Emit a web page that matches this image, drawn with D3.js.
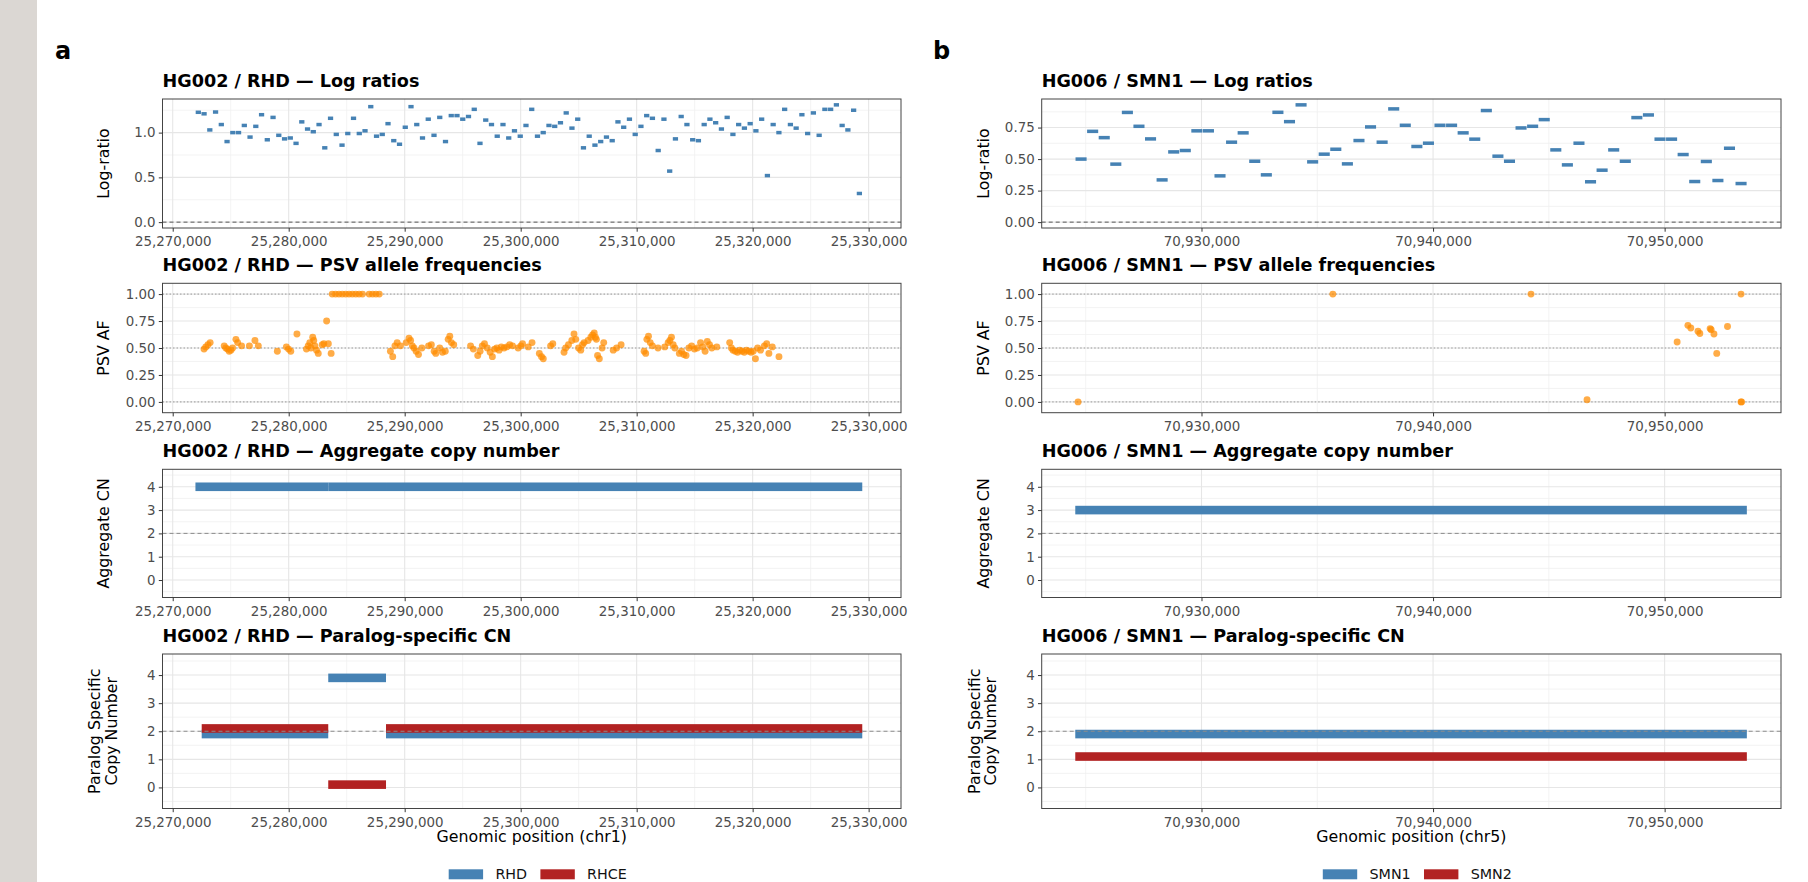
<!DOCTYPE html>
<html><head><meta charset="utf-8">
<script src="https://cdn.jsdelivr.net/npm/d3@7"></script>
<style>html,body{margin:0;padding:0;background:#fff;} svg{display:block;font-family:"DejaVu Sans",sans-serif;}</style>
</head><body><svg id="c" width="1808" height="882"></svg>
<script>
// ---------------- DATA ----------------
// Panel a: HG002 / RHD (chr1)
const logStartA = [25271960,25272456,25272951,25273447,25273942,25274438,25274934,25275429,25275925,25276420,
25276916,25277412,25277907,25278403,25278898,25279394,25279890,25280385,25280881,25281376,
25281872,25282368,25282863,25283359,25283854,25284350,25284846,25285341,25285837,25286332,
25286828,25287324,25287819,25288315,25288810,25289306,25289802,25290297,25290793,25291288,
25291784,25292280,25292775,25293271,25293766,25294262,25294758,25295253,25295749,25296244,
25296740,25297236,25297731,25298227,25298722,25299218,25299714,25300209,25300705,25301200,
25301696,25302192,25302687,25303183,25303678,25304174,25304670,25305165,25305661,25306156,
25306652,25307148,25307643,25308139,25308634,25309130,25309626,25310121,25310617,25311112,
25311608,25312104,25312599,25313095,25313590,25314086,25314582,25315077,25315573,25316068,
25316564,25317060,25317555,25318051,25318546,25319042,25319538,25320033,25320529,25321024,
25321520,25322016,25322511,25323007,25323502,25323998,25324494,25324989,25325485,25325980,
25326476,25326972,25327467,25327963,25328458,25328954];
const binSizeA = 496;
const logRatioA = [1.227,1.21,1.03,1.23,1.09,0.90,1.00,1.00,1.08,0.95,
1.07,1.20,0.92,1.17,0.97,0.93,0.94,0.88,1.12,1.04,
1.01,1.09,0.83,1.16,0.98,0.86,0.99,1.16,0.99,1.02,
1.29,0.96,0.98,1.10,0.91,0.87,1.06,1.29,1.09,0.94,
1.15,0.97,1.17,0.90,1.19,1.19,1.15,1.18,1.26,0.88,
1.14,1.09,0.96,1.09,0.94,1.02,0.96,1.08,1.26,0.96,
1.00,1.08,1.07,1.11,1.22,1.05,1.15,0.83,0.96,0.86,
0.90,0.95,0.91,1.12,1.06,1.15,0.98,1.07,1.19,1.16,
0.80,1.15,0.57,0.93,1.18,1.09,0.92,0.91,1.09,1.15,
1.11,1.04,1.17,0.98,1.09,1.05,1.10,1.02,1.15,0.52,
1.09,1.00,1.26,1.09,1.05,1.20,0.99,1.22,0.97,1.26,
1.26,1.31,1.08,1.03,1.25,0.32];

const psvPosA = [25272700,25272850,25273040,25273230,
25274440,25274580,25274730,25274870,25275020,25275160,25275450,25275600,25275940,25276610,25277090,25277380,
25279020,25279800,25279990,25280180,25280710,
25281530,25281680,25281820,25281920,25282070,25282160,25282260,25282400,25282550,25282890,25283030,25283270,25283420,25283660,
25283750,25284040,25284330,25284620,25284910,25285200,25285490,25285780,25286070,25286360,25286940,25287230,25287520,25287810,
25288770,25288970,25289160,25289350,25289640,25290130,25290370,25290510,25290660,25290800,25290990,25291190,25291480,25292060,25292300,25292540,25292680,25293020,25293260,25293500,25293750,25293890,25294030,25294230,
25295680,25295920,25296300,25296500,25296690,25296880,25297120,25297370,25297560,25297750,25297940,25298140,25298330,25298570,25298810,25299050,25299300,25299780,25300020,25300160,25300650,25300980,
25301610,25301800,25301950,25302580,25302770,25303740,25303880,25304120,25304410,25304600,25304750,25304990,25305180,25305330,25305470,25305810,25306050,25306200,25306340,25306440,25306530,25306630,25306780,25307020,25307160,25307980,25308270,25308660,
25310640,25310780,25310880,25311020,25311170,25311360,25311840,25312420,25312710,25312860,25313000,25313150,25313290,25313680,25313870,25314060,25314260,25314500,25314740,25314980,25315220,25315510,25315700,25315900,25316090,25316280,25316480,25316910,
25318020,25318170,25318310,25318500,25318700,25318890,25319080,25319280,25319470,25319660,25319860,25320050,25320240,25320430,25320680,25321010,25321210,25321400,25321690,25322270];
const psvAfA = [0.49,0.51,0.53,0.55,
0.52,0.50,0.49,0.47,0.48,0.50,0.58,0.55,0.52,0.52,0.57,0.52,
0.47,0.51,0.49,0.47,0.63,
0.49,0.52,0.55,0.50,0.60,0.57,0.52,0.48,0.45,0.53,0.54,0.75,0.54,0.45,
1,1,1,1,1,1,1,1,1,1,1,1,1,1,
0.47,0.42,0.52,0.55,0.52,0.55,0.59,0.57,0.52,0.50,0.47,0.44,0.50,0.52,0.53,0.47,0.45,0.50,0.46,0.47,0.58,0.61,0.55,0.53,
0.52,0.49,0.43,0.47,0.52,0.54,0.50,0.46,0.42,0.49,0.50,0.48,0.51,0.50,0.51,0.53,0.52,0.50,0.52,0.54,0.51,0.55,
0.45,0.42,0.40,0.52,0.54,0.46,0.50,0.53,0.57,0.63,0.58,0.50,0.48,0.53,0.55,0.57,0.60,0.62,0.64,0.60,0.58,0.43,0.40,0.50,0.55,0.48,0.50,0.53,
0.47,0.45,0.58,0.61,0.55,0.52,0.50,0.51,0.55,0.57,0.60,0.53,0.50,0.45,0.47,0.44,0.43,0.50,0.52,0.49,0.50,0.55,0.51,0.47,0.56,0.53,0.50,0.51,
0.55,0.50,0.48,0.47,0.46,0.48,0.47,0.46,0.48,0.47,0.46,0.47,0.40,0.50,0.48,0.52,0.54,0.45,0.51,0.42];

const aggStartA = [25271960,25283410,25288390];
const aggEndA   = [25283410,25288390,25329450];
const aggCnA    = [4,4,4];
const parStartA = [25272500,25283410,25288390];
const parEndA   = [25283410,25288390,25329450];
const rhdCnA    = [2,4,2];
const rhceCnA   = [2,0,2];

// Panel b: HG006 / SMN1 (chr5)
const logStartB = [70924550,70925050,70925550,70926050,70926550,70927050,70927550,70928050,70928550,70929050,
70929550,70930050,70930550,70931050,70931550,70932050,70932550,70933050,70933550,70934050,
70934550,70935050,70935550,70936050,70936550,70937050,70937550,70938050,70938550,70939050,
70939550,70940050,70940550,70941050,70941550,70942050,70942550,70943050,70943550,70944050,
70944550,70945050,70945550,70946050,70946550,70947050,70947550,70948050,70948550,70949050,
70949550,70950050,70950550,70951050,70951550,70952050,70952550,70953050];
const binSizeB = 500;
const logRatioB = [0.50,0.72,0.67,0.46,0.87,0.76,0.66,0.335,0.557,0.568,
0.724,0.724,0.367,0.634,0.708,0.483,0.375,0.871,0.797,0.93,
0.478,0.539,0.578,0.462,0.647,0.755,0.634,0.898,0.768,0.60,
0.626,0.768,0.768,0.708,0.658,0.885,0.523,0.483,0.747,0.76,
0.813,0.573,0.454,0.626,0.32,0.412,0.573,0.483,0.829,0.85,
0.658,0.658,0.536,0.322,0.481,0.33,0.586,0.306];

const psvPosB = [70924670,70935672,70944230,70946650,70950540,70951005,70951130,70951440,70951520,70951965,70952010,70952130,70952250,70952715,70953300,70953300,70953320];
const psvAfB  = [0.0,1.0,1.0,0.02,0.555,0.71,0.685,0.655,0.635,0.68,0.67,0.63,0.45,0.70,1.0,0.0,0.0];

const aggStartB = [70924550];
const aggEndB   = [70953550];
const aggCnB    = [3];
const parStartB = [70924550];
const parEndB   = [70953550];
const smn1CnB   = [2];
const smn2CnB   = [1];

// axis breaks / labels
const xMajorA = [25270000,25280000,25290000,25300000,25310000,25320000,25330000];
const xMinorA = [25275000,25285000,25295000,25305000,25315000,25325000];
const xMajorB = [70930000,70940000,70950000];
const xMinorB = [70925000,70935000,70945000];
const yLogMajorA = [0,0.5,1.0];
const yLogMinorA = [0.25,0.75,1.25];
const yLogMajorB = [0,0.25,0.5,0.75];
const yLogMinorB = [0.125,0.375,0.625,0.875];
const yAfMajor = [0,0.25,0.5,0.75,1];
const yAfMinor = [0.125,0.375,0.625,0.875];
const yCnMajor = [0,1,2,3,4];
const yCnMinor = [-0.5,0.5,1.5,2.5,3.5,4.5];

const legendA = ["RHD","RHCE"];
const legendB = ["SMN1","SMN2"];

// ---------------- STYLE / LAYOUT ----------------
const BLUE = "#4682b4", RED = "#b22222", ORANGE = "#ff8c00";
const svg = d3.select("#c");
const defs = svg.append("defs");
svg.append("rect").attr("x",0).attr("y",0).attr("width",1808).attr("height",882).attr("fill","#fff");
svg.append("rect").attr("x",0).attr("y",0).attr("width",37).attr("height",882).attr("fill","#dbd7d3");

const cols = {a:{left:162.5,right:901,xDomain:[25269120,25332790]}, b:{left:1041.7,right:1781,xDomain:[70923100,70955025]}};
const rows = [{top:99,bottom:228},{top:283.3,bottom:412.7},{top:469.3,bottom:597.5},{top:654,bottom:808.5}];
let clipN = 0;

function drawPanel(col,row,o){
  const {left,right,xDomain} = col; const {top,bottom} = row;
  const x = d3.scaleLinear().domain(xDomain).range([left,right]);
  const y = d3.scaleLinear().domain(o.yDomain).range([bottom,top]);
  const g = svg.append("g");
  const inX = v => v>=xDomain[0] && v<=xDomain[1];
  const inY = v => v>=o.yDomain[0] && v<=o.yDomain[1];
  // grid
  g.selectAll(null).data(o.xMinor.filter(inX)).join("line")
    .attr("x1",d=>x(d)).attr("x2",d=>x(d)).attr("y1",top).attr("y2",bottom)
    .attr("stroke","#f0f0f0").attr("stroke-width",0.8);
  g.selectAll(null).data(o.yMinor.filter(inY)).join("line")
    .attr("y1",d=>y(d)).attr("y2",d=>y(d)).attr("x1",left).attr("x2",right)
    .attr("stroke","#f0f0f0").attr("stroke-width",0.8);
  g.selectAll(null).data(o.xMajor.filter(inX)).join("line")
    .attr("x1",d=>x(d)).attr("x2",d=>x(d)).attr("y1",top).attr("y2",bottom)
    .attr("stroke","#e6e6e6").attr("stroke-width",1.1);
  g.selectAll(null).data(o.yMajor.filter(inY)).join("line")
    .attr("y1",d=>y(d)).attr("y2",d=>y(d)).attr("x1",left).attr("x2",right)
    .attr("stroke","#e6e6e6").attr("stroke-width",1.1);
  // clip
  const cid = "clip"+(clipN++);
  defs.append("clipPath").attr("id",cid).append("rect")
    .attr("x",left).attr("y",top).attr("width",right-left).attr("height",bottom-top);
  const m = g.append("g").attr("clip-path",`url(#${cid})`);
  if (o.refBefore) o.refBefore.forEach(r=>{
    m.append("line").attr("x1",left).attr("x2",right).attr("y1",y(r.v)).attr("y2",y(r.v))
      .attr("stroke",r.c).attr("stroke-width",1).attr("stroke-dasharray",r.d);
  });
  o.draw(m,x,y);
  if (o.refAfter) o.refAfter.forEach(r=>{
    m.append("line").attr("x1",left).attr("x2",right).attr("y1",y(r.v)).attr("y2",y(r.v))
      .attr("stroke",r.c).attr("stroke-width",1).attr("stroke-dasharray",r.d);
  });
  // border
  g.append("rect").attr("x",left).attr("y",top).attr("width",right-left).attr("height",bottom-top)
    .attr("fill","none").attr("stroke","#444").attr("stroke-width",1);
  // axes
  const xa = g.append("g").attr("transform",`translate(0,${bottom})`)
    .call(d3.axisBottom(x).tickValues(o.xMajor.filter(inX)).tickFormat(d3.format(",")).tickSize(3.7).tickPadding(5.2));
  const ya = g.append("g").attr("transform",`translate(${left},0)`)
    .call(d3.axisLeft(y).tickValues(o.yMajor).tickFormat(o.yFmt).tickSize(3.7).tickPadding(3.3));
  [xa,ya].forEach(a=>{
    a.select(".domain").remove();
    a.selectAll("line").attr("stroke","#333").attr("stroke-width",1);
    a.selectAll("text").attr("fill","#4d4d4d").attr("font-size",13.4).attr("font-family",'"DejaVu Sans",sans-serif');
  });
  // title
  g.append("text").attr("x",left).attr("y",top-12).text(o.title)
    .attr("font-weight","bold").attr("font-size",17.6).attr("fill","#000");
  // y label
  const cy = (top+bottom)/2;
  o.ylab.forEach(l=>{
    g.append("text").attr("transform",`translate(${left+l.off},${cy}) rotate(-90)`)
      .attr("text-anchor","middle").attr("dy","0.35em").attr("font-size",15.8).attr("fill","#000").text(l.t);
  });
  return {x,y};
}

function logDraw(starts,vals,bin){
  return (m,x,y)=>{
    m.selectAll(null).data(vals).join("rect")
      .attr("x",(d,i)=>x(starts[i])+0.25)
      .attr("width",(d,i)=>Math.max(1,x(starts[i]+bin)-x(starts[i])-0.5))
      .attr("y",d=>y(d)-1.75).attr("height",3.5).attr("fill",BLUE);
  };
}
function psvDraw(pos,af){
  return (m,x,y)=>{
    m.selectAll(null).data(af).join("circle")
      .attr("cx",(d,i)=>x(pos[i])).attr("cy",d=>y(d)).attr("r",3.45)
      .attr("fill",ORANGE).attr("fill-opacity",0.72);
  };
}
function segDraw(m,x,y,starts,ends,cns,off,color){
  m.selectAll(null).data(cns).join("rect")
    .attr("x",(d,i)=>x(starts[i])).attr("width",(d,i)=>x(ends[i])-x(starts[i]))
    .attr("y",d=>y(d+off)-4.3).attr("height",8.6).attr("fill",color);
}

const logRef = [{v:0,c:"#555",d:"4,3"}];
const afRef = [{v:0,c:"#9a9a9a",d:"1.5,2"},{v:0.5,c:"#9a9a9a",d:"1.5,2"},{v:1,c:"#9a9a9a",d:"1.5,2"}];
const cnRef = [{v:2,c:"#8c8c8c",d:"4,3"}];
const fmt1 = d3.format(".1f"), fmt2 = d3.format(".2f"), fmt0 = d3.format("d");

// ---- Panel a ----
drawPanel(cols.a,rows[0],{yDomain:[-0.0655,1.3755],xMajor:xMajorA,xMinor:xMinorA,yMajor:yLogMajorA,yMinor:yLogMinorA,yFmt:fmt1,
  title:"HG002 / RHD — Log ratios",ylab:[{t:"Log-ratio",off:-59.5}],refAfter:logRef,draw:logDraw(logStartA,logRatioA,binSizeA)});
drawPanel(cols.a,rows[1],{yDomain:[-0.1,1.1],xMajor:xMajorA,xMinor:xMinorA,yMajor:yAfMajor,yMinor:yAfMinor,yFmt:fmt2,
  title:"HG002 / RHD — PSV allele frequencies",ylab:[{t:"PSV AF",off:-59.5}],refBefore:afRef,draw:psvDraw(psvPosA,psvAfA)});
drawPanel(cols.a,rows[2],{yDomain:[-0.75,4.75],xMajor:xMajorA,xMinor:xMinorA,yMajor:yCnMajor,yMinor:yCnMinor,yFmt:fmt0,
  title:"HG002 / RHD — Aggregate copy number",ylab:[{t:"Aggregate CN",off:-59.5}],refAfter:cnRef,
  draw:(m,x,y)=>segDraw(m,x,y,aggStartA,aggEndA,aggCnA,0,BLUE)});
drawPanel(cols.a,rows[3],{yDomain:[-0.75,4.75],xMajor:xMajorA,xMinor:xMinorA,yMajor:yCnMajor,yMinor:yCnMinor,yFmt:fmt0,
  title:"HG002 / RHD — Paralog-specific CN",ylab:[{t:"Paralog Specific",off:-67.7},{t:"Copy Number",off:-51.5}],refAfter:cnRef,
  draw:(m,x,y)=>{segDraw(m,x,y,parStartA,parEndA,rhdCnA,-0.1,BLUE);segDraw(m,x,y,parStartA,parEndA,rhceCnA,0.1,RED);}});

// ---- Panel b ----
drawPanel(cols.b,rows[0],{yDomain:[-0.0465,0.9765],xMajor:xMajorB,xMinor:xMinorB,yMajor:yLogMajorB,yMinor:yLogMinorB,yFmt:fmt2,
  title:"HG006 / SMN1 — Log ratios",ylab:[{t:"Log-ratio",off:-58.5}],refAfter:logRef,draw:logDraw(logStartB,logRatioB,binSizeB)});
drawPanel(cols.b,rows[1],{yDomain:[-0.1,1.1],xMajor:xMajorB,xMinor:xMinorB,yMajor:yAfMajor,yMinor:yAfMinor,yFmt:fmt2,
  title:"HG006 / SMN1 — PSV allele frequencies",ylab:[{t:"PSV AF",off:-58.5}],refBefore:afRef,draw:psvDraw(psvPosB,psvAfB)});
drawPanel(cols.b,rows[2],{yDomain:[-0.75,4.75],xMajor:xMajorB,xMinor:xMinorB,yMajor:yCnMajor,yMinor:yCnMinor,yFmt:fmt0,
  title:"HG006 / SMN1 — Aggregate copy number",ylab:[{t:"Aggregate CN",off:-58.5}],refAfter:cnRef,
  draw:(m,x,y)=>segDraw(m,x,y,aggStartB,aggEndB,aggCnB,0,BLUE)});
drawPanel(cols.b,rows[3],{yDomain:[-0.75,4.75],xMajor:xMajorB,xMinor:xMinorB,yMajor:yCnMajor,yMinor:yCnMinor,yFmt:fmt0,
  title:"HG006 / SMN1 — Paralog-specific CN",ylab:[{t:"Paralog Specific",off:-67.7},{t:"Copy Number",off:-51.5}],refAfter:cnRef,
  draw:(m,x,y)=>{segDraw(m,x,y,parStartB,parEndB,smn1CnB,-0.1,BLUE);segDraw(m,x,y,parStartB,parEndB,smn2CnB,0.1,RED);}});

// x axis titles
[["a","Genomic position (chr1)"],["b","Genomic position (chr5)"]].forEach(([k,t])=>{
  const c = cols[k];
  svg.append("text").attr("x",(c.left+c.right)/2).attr("y",836.7).attr("dy","0.35em")
    .attr("text-anchor","middle").attr("font-size",15.8).attr("fill","#000").text(t);
});

// legends
function legend(cx,cy,labels,colors){
  const g = svg.append("g");
  let xp = 0;
  labels.forEach((lab,i)=>{
    g.append("rect").attr("x",xp).attr("y",cy-5).attr("width",34.4).attr("height",10).attr("fill",colors[i]);
    xp += 34.4+12.3;
    const t = g.append("text").attr("x",xp).attr("y",cy).attr("dy","0.35em").attr("font-size",14.3).attr("fill","#111").text(lab);
    xp += t.node().getComputedTextLength();
    if (i<labels.length-1) xp += 13.3;
  });
  g.attr("transform",`translate(${cx-xp/2},0)`);
}
legend((cols.a.left+cols.a.right)/2+6,874.3,legendA,[BLUE,RED]);
legend((cols.b.left+cols.b.right)/2+6,874.3,legendB,[BLUE,RED]);

// panel tags
svg.append("text").attr("x",55).attr("y",59).attr("font-weight","bold").attr("font-size",24).text("a");
svg.append("text").attr("x",933).attr("y",59).attr("font-weight","bold").attr("font-size",24).text("b");
</script></body></html>
